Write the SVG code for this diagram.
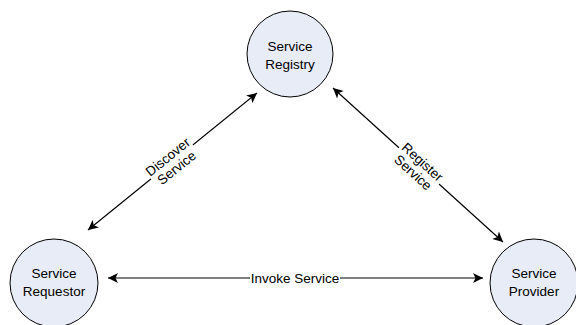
<svg xmlns="http://www.w3.org/2000/svg" width="576" height="325" viewBox="0 0 576 325">
<defs>
<marker id="ah" viewBox="0 0 10 10" refX="10" refY="5" markerWidth="11" markerHeight="10" markerUnits="userSpaceOnUse" orient="auto-start-reverse">
<path d="M0,0 L10,5 L0,10 L2.5,5 Z" fill="#000"/>
</marker>
</defs>
<style>
.node{fill:#E8ECF7;stroke:#000;stroke-width:1}
.t{font-family:"Liberation Sans",Arial,sans-serif;font-size:13.5px;fill:#000;text-anchor:middle}
.c{stroke:#000;stroke-width:1.2;fill:none;marker-start:url(#ah);marker-end:url(#ah)}
.bg{fill:#fff}
</style>
<rect width="576" height="325" fill="#fff"/>
<g id="connectors">
<line class="c" x1="257" y1="93" x2="88" y2="230"/>
<line class="c" x1="333" y1="88" x2="503" y2="242"/>
<line class="c" x1="108" y1="278" x2="483" y2="278"/>
<g transform="translate(172,162) rotate(-39)">
<rect class="bg" x="-27" y="-15" width="54" height="30"/>
<text class="t" x="0" y="-2">Discover</text>
<text class="t" x="0" y="12">Service</text>
</g>
<g transform="translate(418,167) rotate(42)">
<rect class="bg" x="-27" y="-15" width="54" height="30"/>
<text class="t" x="0" y="-2">Register</text>
<text class="t" x="0" y="12">Service</text>
</g>
<rect class="bg" x="250" y="270" width="90" height="16"/>
<text class="t" x="295" y="283">Invoke Service</text>
</g>
<g id="registry">
<circle class="node" cx="290" cy="54" r="43"/>
<text class="t" x="290" y="51">Service</text>
<text class="t" x="290" y="69">Registry</text>
</g>
<g id="requestor">
<circle class="node" cx="54" cy="283" r="44"/>
<text class="t" x="54" y="278">Service</text>
<text class="t" x="54" y="296">Requestor</text>
</g>
<g id="provider">
<circle class="node" cx="534" cy="283" r="44"/>
<text class="t" x="534" y="278">Service</text>
<text class="t" x="534" y="296">Provider</text>
</g>
</svg>
